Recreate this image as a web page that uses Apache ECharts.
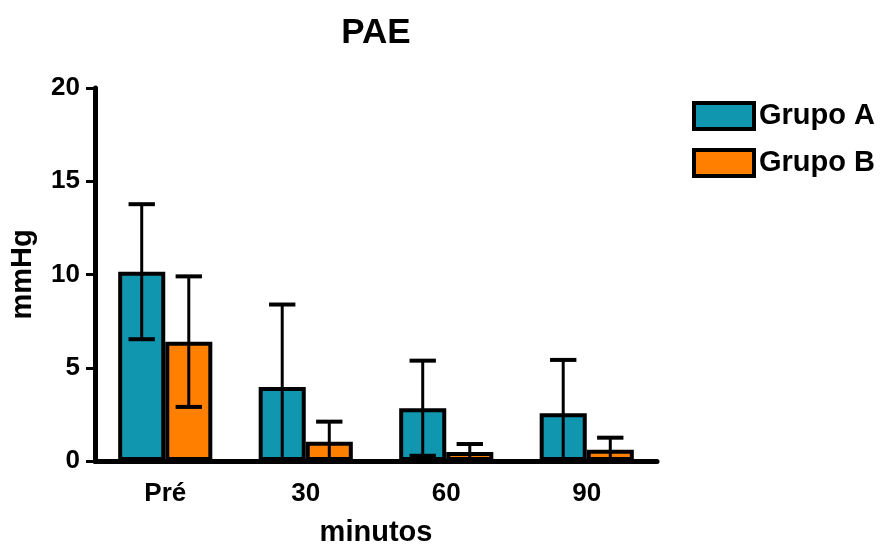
<!DOCTYPE html>
<html>
<head>
<meta charset="utf-8">
<script src="https://cdn.jsdelivr.net/npm/echarts@6/dist/echarts.min.js"></script>
<style>html,body{margin:0;padding:0;background:#fff}#c{width:885px;height:544px}</style>
</head>
<body>
<div id="c"></div>
<script>
const categories = ['Pré', '30', '60', '90'];
const grupoA = [10.15, 3.97, 2.83, 2.56];
const grupoAsd = [3.62, 4.42, 2.55, 2.86];
const grupoB = [6.40, 1.03, 0.48, 0.60];
const grupoBsd = [3.50, 1.08, 0.43, 0.65];
const yTicks = [0, 5, 10, 15, 20];

const FONT = '"Liberation Sans", Arial, sans-serif';
const CAT_GAP = 0.33;

function errData(mean, sd) {
  return mean.map((m, i) => [i, m, sd[i]]);
}
function errRender(side) {
  return function (params, api) {
    const i = api.value(0), m = api.value(1), s = api.value(2);
    const band = api.size([1, 0])[0];
    const barW = band * (1 - CAT_GAP) / 2;
    const base = api.coord([i, 0]);
    const cx = base[0] + side * barW / 2;
    const top = api.coord([i, m + s])[1];
    const lowVal = m - s;
    const bot = api.coord([i, Math.max(lowVal, 0)])[1];
    const capHalf = barW * 0.28;
    const style = { stroke: '#000', lineWidth: 3 };
    const children = [
      { type: 'line', shape: { x1: cx, y1: top, x2: cx, y2: bot }, style },
      { type: 'line', shape: { x1: cx - capHalf, y1: top, x2: cx + capHalf, y2: top }, style: { stroke: '#000', lineWidth: 4 } }
    ];
    if (lowVal >= 0) {
      children.push({ type: 'line', shape: { x1: cx - capHalf, y1: bot, x2: cx + capHalf, y2: bot }, style: { stroke: '#000', lineWidth: 4 } });
    }
    return { type: 'group', children };
  };
}

const chart = echarts.init(document.getElementById('c'), null, { renderer: 'canvas' });
chart.setOption({
  animation: false,
  backgroundColor: '#fff',
  title: {
    text: 'PAE', left: 371, top: 11, textAlign: 'center',
    textStyle: { fontFamily: FONT, fontWeight: 'bold', fontSize: 35, color: '#000' }
  },
  legend: {
    orient: 'vertical', left: 692, top: 101, padding: 0, itemWidth: 60, itemHeight: 26, itemGap: 17,
    icon: 'rect',
    itemStyle: { borderColor: '#000', borderWidth: 4 },
    data: ['Grupo A', 'Grupo B'],
    textStyle: { fontFamily: FONT, fontWeight: 'bold', fontSize: 29, lineHeight: 26, color: '#000', padding: [0, 0, 0, 0] }
  },
  grid: { left: 95, right: 228, top: 88, bottom: 83, outerBoundsMode: 'none', containLabel: false },
  xAxis: {
    type: 'category', data: categories,
    name: 'minutos', nameLocation: 'middle', nameGap: 57,
    nameTextStyle: { fontFamily: FONT, fontWeight: 'bold', fontSize: 29, color: '#000' },
    axisLine: { lineStyle: { color: '#000', width: 5 } },
    axisTick: { alignWithLabel: true, length: 9, lineStyle: { color: '#000', width: 3 } },
    axisLabel: { margin: 20, fontFamily: FONT, fontWeight: 'bold', fontSize: 26, color: '#000' }
  },
  yAxis: {
    type: 'value', min: 0, max: 20, interval: 5,
    name: 'mmHg', nameLocation: 'middle', nameGap: 58, nameRotate: 90,
    nameTextStyle: { fontFamily: FONT, fontWeight: 'bold', fontSize: 29, color: '#000' },
    axisLine: { show: true, lineStyle: { color: '#000', width: 5 } },
    axisTick: { show: true, length: 9, lineStyle: { color: '#000', width: 3 } },
    splitLine: { show: false },
    axisLabel: { margin: 15, fontFamily: FONT, fontWeight: 'bold', fontSize: 26, color: '#000',
      formatter: v => yTicks.includes(v) ? String(v) : '' }
  },
  series: [
    { name: 'Grupo A', type: 'bar', data: grupoA, barGap: '0%', barCategoryGap: '33%',
      itemStyle: { color: '#1196B0', borderColor: '#000', borderWidth: 4 } },
    { name: 'Grupo B', type: 'bar', data: grupoB, barGap: '0%', barCategoryGap: '33%',
      itemStyle: { color: '#FF8000', borderColor: '#000', borderWidth: 4 } },
    { type: 'custom', data: errData(grupoA, grupoAsd), renderItem: errRender(-1), z: 5, silent: true },
    { type: 'custom', data: errData(grupoB, grupoBsd), renderItem: errRender(1), z: 5, silent: true }
  ]
});
</script>
</body>
</html>
